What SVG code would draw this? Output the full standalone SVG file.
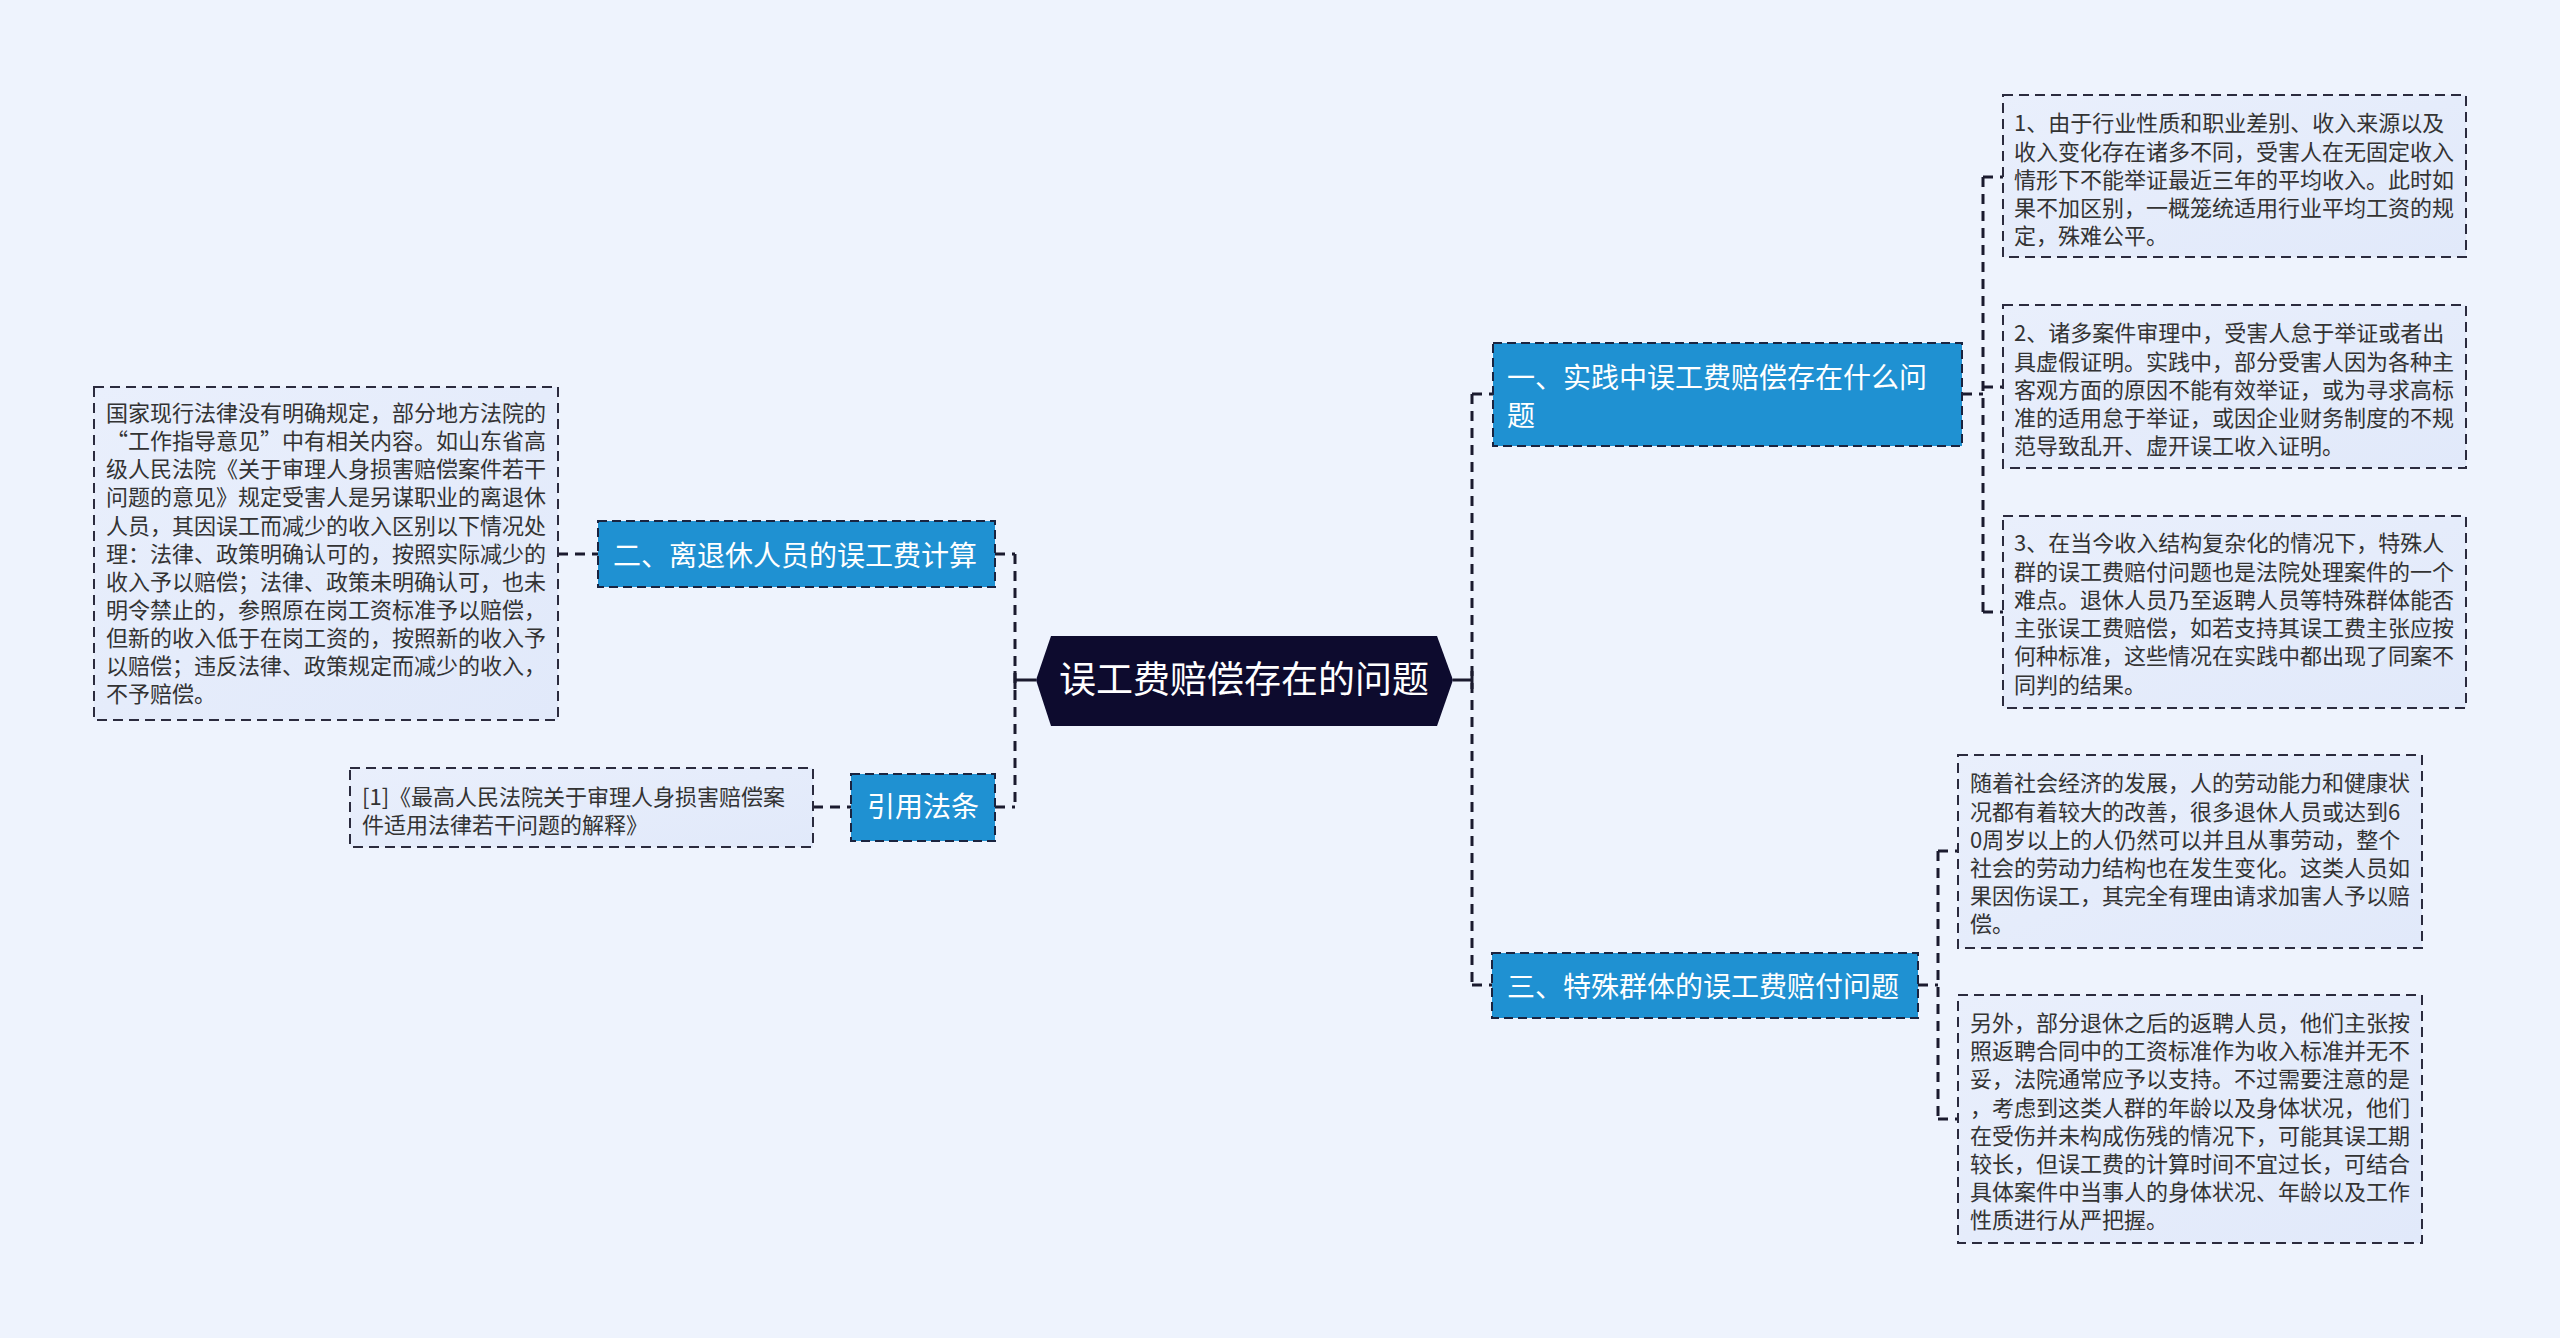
<svg xmlns="http://www.w3.org/2000/svg" width="2560" height="1338" viewBox="0 0 2560 1338">
<defs>
<linearGradient id="leafg" x1="0" y1="0" x2="1" y2="1">
<stop offset="0" stop-color="#e9effc"/>
<stop offset="1" stop-color="#e1e9fa"/>
</linearGradient>
<style>
.bg{fill:#eef3fd}
.leaf{fill:url(#leafg);stroke:#2b2b3e;stroke-width:2;stroke-dasharray:10 6}
.topic{fill:#1f91d2;stroke:#1a2440;stroke-width:2;stroke-dasharray:9 5}
.root{fill:#0d0b2e}
.lt{font-family:"Noto Sans CJK SC","Noto Sans",sans-serif;font-size:22px;fill:#333333}
.tt{font-family:"Noto Sans CJK SC","Noto Sans",sans-serif;font-size:28px;fill:#ffffff}
.rt{font-family:"Noto Sans CJK SC","Noto Sans",sans-serif;font-size:37px;fill:#ffffff}
.con{fill:none;stroke:#1a1a2e;stroke-width:3;stroke-dasharray:10 7}
.sol{fill:none;stroke:#1a1a2e;stroke-width:3}
</style>
</defs>
<rect class="bg" x="0" y="0" width="2560" height="1338"/>

<g id="connectors">
<path class="sol" d="M1036 680 H1015 M1015 671 V689"/>
<path class="sol" d="M1453 680 H1472 M1472 671 V689"/>
<path class="con" d="M1015 554 V807"/>
<path class="con" d="M995 554 H1015 M995 807 H1015"/>
<path class="con" d="M1472 394 V985"/>
<path class="con" d="M1472 394 H1493 M1472 985 H1492"/>
<path class="con" d="M558 554 H598"/>
<path class="con" d="M813 807 H851"/>
<path class="con" d="M1962 394 H1983"/>
<path class="con" d="M1983 177 V612"/>
<path class="con" d="M1983 177 H2003 M1983 387 H2003 M1983 612 H2003"/>
<path class="con" d="M1918 985 H1938"/>
<path class="con" d="M1938 851 V1119"/>
<path class="con" d="M1938 851 H1958 M1938 1119 H1958"/>
</g>

<g id="root">
<polygon class="root" points="1036,680 1051,636 1437,636 1453,680 1437,726 1051,726"/>
<text class="rt" x="1244" y="693" text-anchor="middle">误工费赔偿存在的问题</text>
</g>

<g id="node-er">
<rect class="topic" x="598" y="521" width="397" height="66"/>
<text class="tt" x="613" y="566">二、离退休人员的误工费计算</text>
</g>

<g id="node-law">
<rect class="topic" x="851" y="774" width="144" height="67"/>
<text class="tt" x="923" y="817" text-anchor="middle">引用法条</text>
</g>

<g id="node-yi">
<rect class="topic" x="1493" y="343" width="469" height="103"/>
<text class="tt" x="1507" y="388">一、实践中误工费赔偿存在什么问</text>
<text class="tt" x="1507" y="426">题</text>
</g>

<g id="node-san">
<rect class="topic" x="1492" y="953" width="426" height="65"/>
<text class="tt" x="1507" y="997">三、特殊群体的误工费赔付问题</text>
</g>

<g id="leaf-left">
<rect class="leaf" x="94" y="387" width="464" height="333"/>
<text class="lt" x="106" y="421">国家现行法律没有明确规定，部分地方法院的</text>
<text class="lt" x="106" y="449">“工作指导意见”中有相关内容。如山东省高</text>
<text class="lt" x="106" y="477">级人民法院《关于审理人身损害赔偿案件若干</text>
<text class="lt" x="106" y="505">问题的意见》规定受害人是另谋职业的离退休</text>
<text class="lt" x="106" y="534">人员，其因误工而减少的收入区别以下情况处</text>
<text class="lt" x="106" y="562">理：法律、政策明确认可的，按照实际减少的</text>
<text class="lt" x="106" y="590">收入予以赔偿；法律、政策未明确认可，也未</text>
<text class="lt" x="106" y="618">明令禁止的，参照原在岗工资标准予以赔偿，</text>
<text class="lt" x="106" y="646">但新的收入低于在岗工资的，按照新的收入予</text>
<text class="lt" x="106" y="674">以赔偿；违反法律、政策规定而减少的收入，</text>
<text class="lt" x="106" y="702">不予赔偿。</text>
</g>

<g id="leaf-law">
<rect class="leaf" x="350" y="768" width="463" height="79"/>
<text class="lt" x="362" y="805">[1]《最高人民法院关于审理人身损害赔偿案</text>
<text class="lt" x="362" y="833">件适用法律若干问题的解释》</text>
</g>

<g id="leaf-1">
<rect class="leaf" x="2003" y="95" width="463" height="162"/>
<text class="lt" x="2014" y="131">1、由于行业性质和职业差别、收入来源以及</text>
<text class="lt" x="2014" y="160">收入变化存在诸多不同，受害人在无固定收入</text>
<text class="lt" x="2014" y="188">情形下不能举证最近三年的平均收入。此时如</text>
<text class="lt" x="2014" y="216">果不加区别，一概笼统适用行业平均工资的规</text>
<text class="lt" x="2014" y="244">定，殊难公平。</text>
</g>

<g id="leaf-2">
<rect class="leaf" x="2003" y="305" width="463" height="163"/>
<text class="lt" x="2014" y="341">2、诸多案件审理中，受害人怠于举证或者出</text>
<text class="lt" x="2014" y="370">具虚假证明。实践中，部分受害人因为各种主</text>
<text class="lt" x="2014" y="398">客观方面的原因不能有效举证，或为寻求高标</text>
<text class="lt" x="2014" y="426">准的适用怠于举证，或因企业财务制度的不规</text>
<text class="lt" x="2014" y="454">范导致乱开、虚开误工收入证明。</text>
</g>

<g id="leaf-3">
<rect class="leaf" x="2003" y="516" width="463" height="192"/>
<text class="lt" x="2014" y="551">3、在当今收入结构复杂化的情况下，特殊人</text>
<text class="lt" x="2014" y="580">群的误工费赔付问题也是法院处理案件的一个</text>
<text class="lt" x="2014" y="608">难点。退休人员乃至返聘人员等特殊群体能否</text>
<text class="lt" x="2014" y="636">主张误工费赔偿，如若支持其误工费主张应按</text>
<text class="lt" x="2014" y="664">何种标准，这些情况在实践中都出现了同案不</text>
<text class="lt" x="2014" y="693">同判的结果。</text>
</g>

<g id="leaf-4">
<rect class="leaf" x="1958" y="755" width="464" height="193"/>
<text class="lt" x="1970" y="791">随着社会经济的发展，人的劳动能力和健康状</text>
<text class="lt" x="1970" y="820">况都有着较大的改善，很多退休人员或达到6</text>
<text class="lt" x="1970" y="848">0周岁以上的人仍然可以并且从事劳动，整个</text>
<text class="lt" x="1970" y="876">社会的劳动力结构也在发生变化。这类人员如</text>
<text class="lt" x="1970" y="904">果因伤误工，其完全有理由请求加害人予以赔</text>
<text class="lt" x="1970" y="932">偿。</text>
</g>

<g id="leaf-5">
<rect class="leaf" x="1958" y="995" width="464" height="248"/>
<text class="lt" x="1970" y="1031">另外，部分退休之后的返聘人员，他们主张按</text>
<text class="lt" x="1970" y="1059">照返聘合同中的工资标准作为收入标准并无不</text>
<text class="lt" x="1970" y="1087">妥，法院通常应予以支持。不过需要注意的是</text>
<text class="lt" x="1970" y="1116">，考虑到这类人群的年龄以及身体状况，他们</text>
<text class="lt" x="1970" y="1144">在受伤并未构成伤残的情况下，可能其误工期</text>
<text class="lt" x="1970" y="1172">较长，但误工费的计算时间不宜过长，可结合</text>
<text class="lt" x="1970" y="1200">具体案件中当事人的身体状况、年龄以及工作</text>
<text class="lt" x="1970" y="1228">性质进行从严把握。</text>
</g>
</svg>
